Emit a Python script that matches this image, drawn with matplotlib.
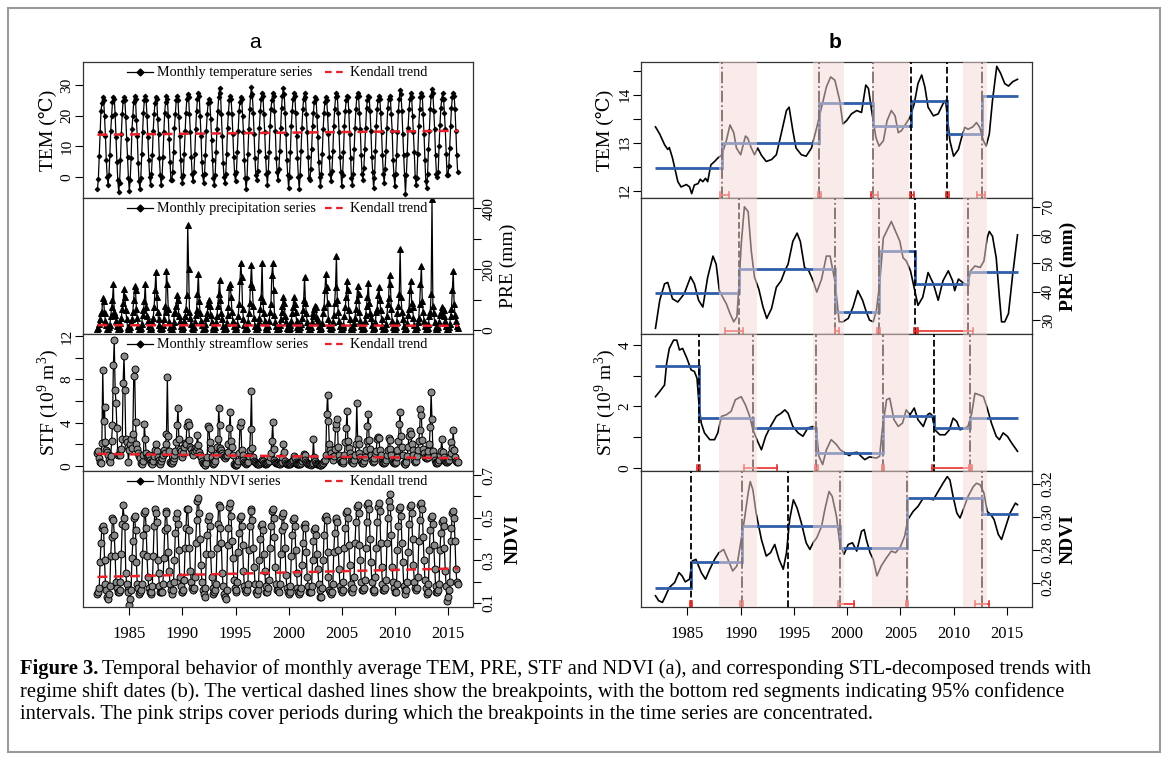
import matplotlib.pyplot as plt
import numpy as np
from matplotlib.patches import Rectangle

plt.rcParams['font.family'] = ['Liberation Serif', 'DejaVu Serif']
plt.rcParams['mathtext.fontset'] = 'custom'
plt.rcParams['mathtext.rm'] = 'Liberation Serif'

# ---------------- panel a: monthly series, 1982-2015 (one row of 12 per year) ----------------
tem_monthly = [
    [-4.0, -0.8, 6.8, 14.5, 21.5, 24.0, 26.0, 25.2, 19.8, 13.5, 5.5, 0.0],
    [-2.5, 0.5, 7.0, 15.0, 20.0, 24.5, 26.0, 25.5, 20.5, 13.0, 5.0, -1.0],
    [-5.0, -2.0, 5.5, 14.0, 20.5, 24.8, 26.0, 25.0, 19.5, 12.5, 6.5, -0.5],
    [-4.5, -1.0, 6.0, 15.5, 20.0, 24.5, 26.5, 25.5, 18.5, 13.5, 4.5, -1.5],
    [-4.0, -0.5, 7.5, 14.5, 21.0, 25.0, 26.5, 25.0, 20.0, 13.0, 5.5, 0.0],
    [-2.5, 1.0, 7.0, 15.0, 20.5, 24.0, 26.0, 25.5, 19.0, 14.0, 6.0, 0.5],
    [-2.5, 0.0, 6.5, 14.5, 21.0, 24.5, 26.3, 25.5, 20.0, 12.5, 5.0, -1.0],
    [-1.0, 1.5, 8.0, 16.0, 20.5, 25.0, 26.3, 25.0, 19.5, 13.5, 5.5, 0.0],
    [-2.0, 0.5, 7.5, 15.0, 21.0, 25.5, 27.2, 26.0, 20.5, 14.5, 6.5, 1.0],
    [-1.5, 1.5, 7.5, 15.5, 21.5, 25.5, 27.5, 26.5, 20.0, 13.5, 5.0, 0.5],
    [-2.0, 1.0, 7.0, 15.0, 20.5, 24.0, 25.3, 24.5, 19.0, 12.0, 5.5, -0.5],
    [-2.5, 0.5, 8.0, 15.5, 21.5, 26.0, 29.0, 27.5, 20.5, 13.5, 4.5, 0.0],
    [-2.0, 1.0, 7.5, 16.0, 21.0, 25.0, 26.3, 25.5, 20.5, 14.0, 6.5, 1.0],
    [-1.5, 1.5, 8.0, 15.0, 21.5, 24.5, 26.0, 25.5, 20.0, 14.5, 5.5, -0.5],
    [-4.0, -0.5, 7.5, 15.5, 22.0, 26.5, 29.3, 27.0, 21.0, 14.0, 6.0, 0.5],
    [-1.0, 2.0, 8.5, 16.0, 21.5, 25.5, 27.5, 26.5, 20.5, 14.5, 6.5, 1.0],
    [-2.5, 1.5, 8.0, 16.5, 22.0, 25.0, 27.5, 26.5, 21.5, 15.0, 6.0, 1.5],
    [-1.0, 2.5, 8.5, 16.0, 22.5, 26.5, 29.0, 27.0, 21.0, 14.0, 5.5, 0.5],
    [-3.5, 0.0, 8.0, 16.5, 21.5, 25.5, 27.5, 26.5, 21.0, 13.5, 6.0, 0.0],
    [-4.0, 0.5, 8.5, 16.0, 22.0, 25.5, 27.3, 26.0, 20.5, 14.5, 6.5, -0.5],
    [-1.0, 2.5, 9.0, 16.5, 21.0, 24.5, 26.0, 25.5, 20.0, 13.0, 5.0, 0.0],
    [-3.0, 1.0, 7.5, 15.5, 21.0, 24.5, 26.0, 25.0, 20.5, 14.0, 6.5, 1.0],
    [-1.5, 2.0, 8.5, 16.5, 22.0, 26.0, 27.5, 26.5, 21.0, 14.5, 6.5, 1.5],
    [-3.0, 0.5, 8.0, 16.5, 21.5, 25.0, 26.5, 26.0, 21.5, 14.0, 6.0, -0.5],
    [-2.5, 1.0, 9.0, 16.0, 22.0, 26.0, 27.5, 26.5, 21.0, 15.5, 7.0, 1.0],
    [-1.0, 3.0, 9.0, 16.0, 22.5, 25.0, 26.5, 26.0, 21.5, 15.0, 6.5, 1.5],
    [-3.5, -0.5, 8.5, 16.5, 22.0, 25.0, 26.5, 25.5, 21.0, 14.5, 7.0, 1.0],
    [-2.0, 2.5, 8.5, 16.0, 22.5, 25.5, 26.3, 25.5, 20.5, 15.0, 5.5, 0.5],
    [-3.0, 1.0, 7.0, 14.5, 21.5, 25.5, 28.5, 27.0, 21.5, 14.0, 7.0, 0.5],
    [-5.5, 0.5, 7.5, 16.0, 22.0, 25.5, 27.3, 26.0, 20.0, 14.5, 8.0, 0.0],
    [-2.5, -0.5, 7.5, 16.5, 22.0, 26.0, 27.3, 26.5, 20.5, 14.0, 5.5, -1.5],
    [-3.5, 1.0, 9.0, 15.0, 22.0, 26.5, 28.7, 27.5, 21.5, 15.5, 7.0, 1.0],
    [0.0, 1.5, 10.0, 17.0, 22.5, 25.5, 27.5, 25.5, 21.0, 15.5, 7.5, 0.5],
    [0.5, 3.5, 9.5, 16.5, 22.5, 26.0, 27.5, 26.5, 22.0, 15.0, 7.0, 1.5],
]

pre_monthly = [
    [4, 8, 20, 35, 55, 60, 105, 95, 55, 30, 15, 5],
    [5, 10, 18, 45, 75, 100, 150, 60, 50, 30, 12, 4],
    [3, 8, 22, 40, 70, 90, 135, 110, 65, 35, 10, 4],
    [4, 9, 25, 35, 60, 100, 145, 130, 70, 40, 14, 5],
    [5, 7, 20, 50, 65, 95, 150, 75, 45, 30, 12, 3],
    [4, 10, 28, 40, 75, 130, 190, 110, 60, 35, 15, 6],
    [3, 8, 15, 35, 80, 60, 195, 150, 70, 25, 10, 3],
    [4, 12, 25, 55, 60, 80, 115, 100, 45, 30, 12, 5],
    [6, 10, 30, 45, 70, 115, 345, 200, 60, 40, 20, 6],
    [5, 9, 25, 50, 65, 120, 185, 95, 55, 30, 15, 4],
    [3, 8, 20, 40, 55, 85, 100, 80, 50, 25, 10, 3],
    [4, 10, 25, 45, 80, 120, 165, 100, 55, 35, 14, 5],
    [5, 8, 22, 50, 75, 140, 150, 110, 60, 30, 12, 4],
    [4, 9, 20, 45, 85, 160, 220, 175, 70, 35, 15, 5],
    [3, 7, 28, 55, 90, 150, 215, 140, 80, 40, 12, 4],
    [5, 10, 25, 40, 70, 110, 220, 95, 55, 30, 10, 3],
    [4, 12, 30, 60, 85, 180, 220, 130, 50, 28, 12, 5],
    [3, 6, 18, 35, 60, 80, 110, 90, 45, 25, 8, 2],
    [4, 8, 15, 30, 55, 75, 110, 85, 60, 30, 10, 3],
    [3, 9, 20, 40, 65, 100, 175, 90, 55, 25, 12, 4],
    [5, 10, 25, 45, 55, 70, 80, 75, 40, 30, 14, 5],
    [4, 8, 22, 55, 75, 130, 185, 140, 90, 35, 15, 6],
    [5, 11, 28, 50, 90, 140, 245, 100, 60, 30, 12, 4],
    [3, 9, 18, 45, 75, 110, 160, 130, 65, 35, 10, 3],
    [4, 10, 24, 40, 70, 100, 145, 120, 60, 30, 12, 5],
    [5, 8, 30, 50, 80, 110, 155, 90, 55, 40, 15, 4],
    [6, 9, 25, 60, 70, 115, 140, 100, 65, 35, 12, 5],
    [3, 8, 20, 45, 85, 105, 180, 150, 70, 30, 10, 4],
    [4, 10, 28, 55, 80, 120, 265, 110, 60, 35, 14, 5],
    [5, 7, 22, 50, 70, 130, 160, 90, 75, 40, 15, 4],
    [4, 9, 25, 40, 85, 150, 210, 95, 60, 30, 12, 5],
    [3, 8, 20, 45, 60, 120, 430, 80, 55, 25, 10, 3],
    [4, 10, 25, 50, 60, 75, 70, 65, 45, 30, 12, 4],
    [5, 9, 20, 45, 70, 130, 195, 85, 50, 30, 14, 6],
]

stf_monthly = [
    [1.2, 1.4, 0.7, 0.4, 0.3, 2.1, 8.9, 4.2, 5.5, 2.2, 1.5, 1.3],
    [1.0, 0.6, 0.4, 0.9, 2.3, 3.8, 9.3, 11.6, 7.0, 5.8, 3.5, 1.0],
    [1.1, 1.0, 1.5, 1.6, 2.5, 7.7, 10.2, 7.0, 2.5, 2.2, 1.8, 0.4],
    [1.5, 2.0, 2.5, 1.7, 3.0, 8.3, 9.0, 4.1, 2.0, 1.6, 1.2, 0.9],
    [0.7, 0.3, 0.2, 0.5, 1.0, 3.9, 2.5, 1.2, 0.8, 0.9, 1.0, 0.6],
    [0.4, 0.3, 0.2, 0.5, 0.9, 1.5, 2.0, 1.4, 0.8, 0.6, 0.3, 0.2],
    [0.5, 0.7, 1.0, 1.5, 1.2, 2.0, 3.0, 8.2, 2.8, 1.4, 0.4, 0.3],
    [0.3, 0.5, 0.7, 1.0, 1.4, 2.2, 3.8, 5.4, 2.5, 1.6, 1.4, 0.9],
    [0.8, 1.2, 1.8, 2.1, 2.0, 3.7, 4.1, 3.8, 2.4, 1.8, 1.6, 1.2],
    [1.0, 1.4, 1.7, 1.5, 1.8, 2.9, 1.9, 1.3, 1.0, 0.8, 0.5, 0.3],
    [0.2, 0.1, 0.1, 0.3, 0.8, 3.7, 3.5, 2.2, 1.6, 0.8, 0.4, 0.2],
    [0.3, 0.5, 1.0, 1.8, 2.5, 5.4, 3.8, 1.7, 1.5, 1.2, 1.0, 0.8],
    [0.7, 0.9, 1.0, 1.3, 2.0, 3.5, 5.0, 2.3, 1.8, 1.0, 0.2, 0.1],
    [0.1, 0.1, 0.2, 0.5, 1.2, 3.7, 4.1, 1.5, 1.0, 0.6, 0.4, 0.3],
    [0.2, 0.3, 0.4, 0.9, 1.5, 3.4, 6.9, 1.7, 0.8, 0.5, 0.4, 0.3],
    [0.2, 0.2, 0.3, 0.2, 0.3, 0.4, 0.6, 0.5, 0.3, 0.2, 0.2, 0.3],
    [0.3, 0.4, 0.5, 0.8, 1.2, 2.3, 4.1, 1.6, 0.6, 0.4, 0.3, 0.3],
    [0.3, 0.2, 0.2, 0.3, 0.4, 0.8, 2.0, 1.3, 0.5, 0.3, 0.2, 0.2],
    [0.2, 0.2, 0.3, 0.4, 0.5, 0.6, 0.9, 0.7, 0.4, 0.3, 0.2, 0.2],
    [0.2, 0.2, 0.3, 0.5, 0.7, 1.1, 1.0, 0.6, 0.4, 0.3, 0.2, 0.2],
    [0.2, 0.1, 0.2, 0.3, 2.5, 0.8, 0.5, 0.3, 0.2, 0.2, 0.2, 0.1],
    [0.1, 0.1, 0.2, 0.3, 0.5, 0.6, 1.0, 4.8, 6.6, 4.2, 2.0, 1.5],
    [1.2, 0.8, 0.6, 0.9, 1.6, 3.5, 3.9, 4.3, 1.8, 1.0, 0.6, 0.4],
    [0.4, 0.3, 0.5, 1.0, 2.2, 3.5, 5.1, 2.3, 1.7, 1.2, 0.8, 0.5],
    [0.4, 0.3, 0.6, 1.0, 2.0, 5.8, 2.5, 2.0, 1.2, 0.8, 0.5, 0.3],
    [0.3, 0.5, 0.8, 1.5, 2.3, 3.7, 4.8, 2.4, 1.6, 1.0, 0.6, 0.4],
    [0.5, 0.7, 1.2, 1.4, 2.5, 2.7, 2.6, 1.5, 1.0, 0.6, 0.4, 0.3],
    [0.3, 0.4, 0.6, 1.0, 1.5, 2.6, 2.4, 1.6, 1.0, 0.6, 0.4, 0.3],
    [0.3, 0.4, 0.8, 1.5, 2.3, 3.9, 5.0, 2.8, 1.8, 1.0, 0.3, 0.2],
    [0.2, 0.4, 0.9, 1.8, 2.8, 3.2, 3.0, 2.0, 1.5, 1.0, 0.6, 0.4],
    [0.5, 0.9, 1.5, 2.3, 3.3, 5.3, 4.7, 2.4, 1.6, 1.2, 0.8, 0.7],
    [0.7, 0.8, 1.4, 2.0, 3.6, 6.8, 4.3, 1.4, 0.9, 0.6, 0.4, 0.3],
    [0.3, 0.4, 0.6, 1.0, 1.4, 2.5, 1.3, 0.8, 0.6, 0.5, 0.4, 0.4],
    [0.5, 0.6, 0.9, 1.2, 2.2, 1.7, 3.3, 1.5, 0.8, 0.5, 0.4, 0.4],
]

ndvi_monthly = [
    [0.14, 0.15, 0.17, 0.29, 0.38, 0.45, 0.46, 0.44, 0.30, 0.19, 0.16, 0.13],
    [0.12, 0.14, 0.18, 0.32, 0.41, 0.50, 0.49, 0.42, 0.32, 0.20, 0.17, 0.15],
    [0.15, 0.16, 0.20, 0.33, 0.47, 0.56, 0.50, 0.46, 0.24, 0.19, 0.16, 0.15],
    [0.09, 0.12, 0.16, 0.31, 0.39, 0.50, 0.51, 0.44, 0.29, 0.19, 0.17, 0.14],
    [0.15, 0.16, 0.19, 0.33, 0.42, 0.52, 0.53, 0.45, 0.32, 0.22, 0.17, 0.15],
    [0.14, 0.15, 0.18, 0.32, 0.46, 0.54, 0.52, 0.48, 0.30, 0.24, 0.18, 0.15],
    [0.15, 0.15, 0.19, 0.31, 0.44, 0.53, 0.52, 0.45, 0.34, 0.25, 0.19, 0.16],
    [0.14, 0.16, 0.20, 0.30, 0.43, 0.50, 0.52, 0.47, 0.35, 0.22, 0.18, 0.15],
    [0.15, 0.16, 0.21, 0.36, 0.45, 0.54, 0.54, 0.44, 0.36, 0.25, 0.20, 0.17],
    [0.16, 0.17, 0.22, 0.38, 0.49, 0.58, 0.59, 0.52, 0.40, 0.28, 0.20, 0.16],
    [0.14, 0.13, 0.17, 0.33, 0.42, 0.49, 0.51, 0.46, 0.33, 0.22, 0.17, 0.14],
    [0.15, 0.16, 0.19, 0.36, 0.47, 0.56, 0.55, 0.45, 0.38, 0.24, 0.18, 0.14],
    [0.13, 0.12, 0.16, 0.37, 0.45, 0.55, 0.57, 0.51, 0.39, 0.31, 0.21, 0.17],
    [0.15, 0.16, 0.20, 0.34, 0.43, 0.50, 0.51, 0.46, 0.37, 0.25, 0.18, 0.16],
    [0.15, 0.16, 0.19, 0.35, 0.46, 0.54, 0.53, 0.49, 0.36, 0.27, 0.19, 0.15],
    [0.14, 0.16, 0.19, 0.30, 0.40, 0.46, 0.47, 0.44, 0.33, 0.25, 0.18, 0.15],
    [0.15, 0.17, 0.21, 0.36, 0.46, 0.53, 0.54, 0.50, 0.41, 0.27, 0.19, 0.16],
    [0.16, 0.15, 0.19, 0.33, 0.44, 0.51, 0.52, 0.46, 0.36, 0.23, 0.17, 0.15],
    [0.14, 0.15, 0.18, 0.32, 0.42, 0.49, 0.50, 0.46, 0.35, 0.24, 0.17, 0.15],
    [0.14, 0.15, 0.17, 0.28, 0.38, 0.46, 0.47, 0.45, 0.34, 0.22, 0.18, 0.15],
    [0.15, 0.15, 0.18, 0.30, 0.39, 0.44, 0.45, 0.42, 0.33, 0.26, 0.19, 0.16],
    [0.13, 0.13, 0.17, 0.30, 0.42, 0.50, 0.51, 0.49, 0.34, 0.22, 0.16, 0.15],
    [0.14, 0.15, 0.19, 0.34, 0.43, 0.49, 0.50, 0.48, 0.35, 0.26, 0.18, 0.16],
    [0.15, 0.16, 0.20, 0.36, 0.45, 0.52, 0.53, 0.50, 0.37, 0.28, 0.19, 0.16],
    [0.15, 0.17, 0.22, 0.38, 0.48, 0.55, 0.56, 0.52, 0.37, 0.30, 0.20, 0.16],
    [0.16, 0.17, 0.21, 0.36, 0.48, 0.56, 0.57, 0.54, 0.40, 0.29, 0.20, 0.16],
    [0.15, 0.16, 0.22, 0.36, 0.48, 0.55, 0.57, 0.53, 0.38, 0.27, 0.19, 0.16],
    [0.16, 0.17, 0.21, 0.38, 0.50, 0.58, 0.61, 0.55, 0.42, 0.27, 0.20, 0.17],
    [0.15, 0.15, 0.19, 0.35, 0.46, 0.54, 0.55, 0.51, 0.38, 0.29, 0.18, 0.16],
    [0.14, 0.16, 0.20, 0.34, 0.47, 0.55, 0.56, 0.52, 0.40, 0.28, 0.20, 0.17],
    [0.16, 0.17, 0.22, 0.39, 0.49, 0.56, 0.57, 0.54, 0.41, 0.30, 0.21, 0.17],
    [0.14, 0.15, 0.19, 0.35, 0.44, 0.50, 0.51, 0.47, 0.37, 0.26, 0.18, 0.15],
    [0.15, 0.16, 0.19, 0.35, 0.43, 0.48, 0.49, 0.46, 0.36, 0.25, 0.18, 0.11],
    [0.13, 0.16, 0.20, 0.39, 0.45, 0.52, 0.53, 0.50, 0.39, 0.26, 0.20, 0.19],
]

# Kendall trend lines: value at start (1982) and end (2016)
kendall_years = [1982.0, 2016.0]
tem_kendall = [13.75, 15.05]
pre_kendall = [16.0, 14.0]
stf_kendall = [1.12, 0.72]
ndvi_kendall = [0.222, 0.262]

# ---------------- panel b: STL trends, breakpoints, levels, CIs ----------------
tem_trend_yr = [1982.0, 1982.4, 1982.85, 1983.15, 1983.3, 1983.6, 1984.1, 1984.4, 1984.9, 1985.2,
                1985.4, 1985.65, 1986.0, 1986.2, 1986.45, 1986.7, 1986.9, 1987.2, 1987.55, 1987.85,
                1988.25, 1988.65, 1989.0, 1989.35, 1989.6, 1990.0, 1990.45, 1990.65, 1991.0, 1991.3,
                1991.6, 1991.95, 1992.4, 1992.9, 1993.35, 1993.8, 1994.3, 1994.55, 1994.9, 1995.2,
                1995.7, 1996.15, 1996.65, 1997.15, 1997.6, 1998.05, 1998.45, 1998.85, 1999.3, 1999.6,
                1999.95, 2000.4, 2000.9, 2001.35, 2001.75, 2002.0, 2002.3, 2002.7, 2003.0, 2003.4,
                2003.75, 2004.15, 2004.5, 2004.8, 2005.1, 2005.5, 2005.9, 2006.3, 2006.65, 2007.0,
                2007.3, 2007.6, 2008.1, 2008.55, 2009.0, 2009.25, 2009.65, 2010.0, 2010.45, 2010.75,
                2011.05, 2011.35, 2011.8, 2012.15, 2012.45, 2012.8, 2013.05, 2013.35, 2013.65, 2014.05,
                2014.4, 2014.8, 2015.15, 2015.55, 2016.0]
tem_trend = [13.33, 13.18, 12.96, 12.86, 12.90, 12.68, 12.19, 12.08, 12.13, 12.08,
             11.94, 12.12, 12.15, 12.24, 12.19, 12.26, 12.19, 12.54, 12.61, 12.68,
             12.75, 13.04, 13.37, 13.21, 12.89, 12.75, 13.14, 13.10, 12.89, 12.75,
             12.89, 12.74, 12.61, 12.65, 12.75, 13.18, 13.67, 13.74, 13.25, 12.89,
             12.75, 12.72, 12.89, 13.32, 13.74, 14.16, 14.37, 14.30, 13.88, 13.39,
             13.46, 13.60, 13.67, 13.63, 14.20, 14.13, 13.67, 13.11, 12.93, 13.04,
             13.46, 13.67, 13.56, 13.21, 13.25, 13.39, 13.53, 13.81, 14.23, 14.41,
             14.16, 13.74, 13.56, 13.60, 13.81, 13.88, 13.04, 12.72, 12.86, 13.11,
             13.32, 13.28, 13.33, 13.42, 13.32, 13.04, 12.93, 13.18, 13.88, 14.59,
             14.45, 14.23, 14.18, 14.27, 14.32]
tem_breaks = [1988.24, 1997.33, 2002.44, 2005.98, 2009.34, 2012.69]
tem_break_styles = ['-.', '-.', '-.', '--', '--', '-.']
tem_levels = [12.47, 13.0, 13.82, 13.35, 13.87, 13.18, 13.97]
tem_ci_lo = [1988.05, 1997.27, 2002.2, 2005.9, 2009.27, 2012.2]
tem_ci_hi = [1988.9, 1997.5, 2002.9, 2006.3, 2009.6, 2012.9]

pre_trend_yr = [1982.0, 1982.4, 1982.85, 1983.15, 1983.6, 1984.1, 1984.7, 1985.3, 1985.65, 1986.05,
                1986.45, 1986.9, 1987.4, 1987.7, 1988.0, 1988.4, 1988.65, 1989.0, 1989.35, 1989.65,
                1989.85, 1990.05, 1990.35, 1990.7, 1991.0, 1991.3, 1991.7, 1992.1, 1992.45, 1992.9,
                1993.35, 1993.8, 1994.15, 1994.45, 1994.9, 1995.3, 1995.6, 1996.0, 1996.4, 1996.8,
                1997.15, 1997.6, 1998.05, 1998.4, 1998.6, 1998.85, 1999.25, 1999.6, 2000.1, 2000.55,
                2001.0, 2001.45, 2001.8, 2002.1, 2002.45, 2002.75, 2003.05, 2003.4, 2003.85, 2004.15,
                2004.55, 2004.95, 2005.25, 2005.55, 2005.95, 2006.35, 2006.65, 2007.1, 2007.6, 2008.1,
                2008.55, 2009.0, 2009.5, 2009.9, 2010.1, 2010.45, 2010.85, 2011.3, 2011.6, 2012.0,
                2012.5, 2012.85, 2013.15, 2013.35, 2013.65, 2014.0, 2014.3, 2014.5, 2014.8, 2015.15,
                2015.55, 2016.0]
pre_trend = [27.1, 37.0, 42.8, 43.3, 37.5, 36.4, 39.3, 45.3, 42.8, 37.0,
             34.6, 45.1, 52.6, 49.7, 40.4, 37.5, 35.8, 32.3, 29.4, 31.2,
             42.8, 56.7, 70.0, 68.3, 54.3, 45.1, 41.0, 34.6, 30.6, 34.1,
             41.6, 43.9, 47.4, 49.7, 57.8, 60.7, 57.8, 48.6, 47.4, 43.9,
             39.9, 44.5, 52.6, 52.6, 48.6, 43.9, 29.4, 29.4, 30.6, 34.6,
             40.4, 37.0, 32.9, 30.0, 29.4, 33.5, 42.8, 59.0, 62.5, 64.8,
             61.3, 57.8, 52.0, 50.9, 47.4, 40.4, 35.2, 38.1, 46.8, 42.8,
             37.0, 43.9, 47.4, 43.9, 40.4, 44.5, 43.3, 42.2, 47.4, 49.1,
             48.6, 50.9, 59.0, 61.3, 59.6, 52.0, 38.1, 29.4, 29.4, 32.3,
             46.2, 60.1]
pre_breaks = [1989.8, 1998.9, 2002.97, 2006.36, 2011.37]
pre_break_styles = ['--', '-.', '-.', '--', '-.']
pre_levels = [39.6, 47.9, 33.0, 54.4, 42.6, 47.0]
pre_ci_lo = [1988.5, 1998.85, 2002.85, 2006.3, 2006.65]
pre_ci_hi = [1990.2, 1999.25, 2003.1, 2006.6, 2011.85]

stf_trend_yr = [1982.0, 1982.4, 1982.85, 1983.05, 1983.3, 1983.7, 1984.0, 1984.25, 1984.55, 1984.95,
                1985.35, 1985.65, 1985.9, 1986.1, 1986.3, 1986.6, 1987.1, 1987.55, 1987.85, 1988.2,
                1988.65, 1989.1, 1989.5, 1990.05, 1990.45, 1990.85, 1991.15, 1991.6, 1991.95, 1992.35,
                1992.8, 1993.35, 1993.8, 1994.15, 1994.45, 1994.9, 1995.4, 1995.85, 1996.3, 1996.8,
                1997.1, 1997.35, 1997.7, 1998.05, 1998.5, 1999.0, 1999.35, 1999.8, 2000.2, 2000.55,
                2000.95, 2001.25, 2001.65, 2002.1, 2002.75, 2003.05, 2003.3, 2003.7, 2004.0, 2004.4,
                2004.8, 2005.2, 2005.55, 2005.9, 2006.3, 2006.65, 2007.15, 2007.55, 2007.75, 2007.95,
                2008.25, 2008.7, 2009.2, 2009.6, 2009.95, 2010.3, 2010.6, 2011.05, 2011.35, 2011.7,
                2012.0, 2012.4, 2012.8, 2013.15, 2013.55, 2014.0, 2014.3, 2014.65, 2015.05, 2015.45,
                2016.0]
stf_trend = [2.32, 2.49, 2.70, 3.41, 3.89, 4.16, 4.16, 3.84, 3.89, 3.57,
             3.19, 3.14, 2.92, 2.00, 1.46, 1.14, 0.92, 0.92, 1.14, 1.68,
             1.73, 1.84, 2.22, 2.32, 2.05, 1.68, 1.24, 0.86, 0.59, 1.03,
             1.35, 1.68, 1.78, 1.89, 1.78, 1.35, 1.14, 1.03, 1.30, 1.35,
             1.24, 0.38, 0.11, 0.59, 0.92, 0.76, 0.59, 0.49, 0.40, 0.49,
             0.51, 0.40, 0.27, 0.36, 0.32, 0.38, 1.24, 2.22, 2.27, 1.57,
             1.35, 1.46, 1.89, 1.73, 1.95, 1.57, 1.35, 1.73, 1.78, 1.73,
             1.24, 1.08, 1.08, 1.24, 1.62, 1.51, 1.24, 1.30, 1.35, 1.78,
             2.43, 2.38, 2.32, 1.95, 1.46, 1.03, 0.92, 1.14, 1.03, 0.81,
             0.54]
stf_breaks = [1986.08, 1991.15, 1997.1, 2003.38, 2008.14, 2011.53]
stf_break_styles = ['--', '-.', '-.', '-.', '--', '-.']
stf_levels = [3.31, 1.62, 1.29, 0.49, 1.69, 1.29, 1.62]
stf_ci_lo = [1985.9, 1990.3, 1997.0, 2003.3, 2007.95, 2011.4]
stf_ci_hi = [1986.2, 1993.4, 1997.3, 2003.5, 2011.5, 2011.7]

ndvi_trend_yr = [1982.0, 1982.3, 1982.65, 1982.95, 1983.3, 1983.8, 1984.2, 1984.5, 1984.8, 1985.2,
                 1985.45, 1985.8, 1986.3, 1986.7, 1987.1, 1987.55, 1987.95, 1988.4, 1988.8, 1989.25,
                 1989.65, 1990.05, 1990.35, 1990.7, 1990.9, 1991.15, 1991.45, 1991.95, 1992.4, 1992.8,
                 1993.2, 1993.6, 1994.0, 1994.3, 1994.6, 1994.95, 1995.3, 1995.7, 1996.15, 1996.5,
                 1996.8, 1997.15, 1997.6, 1997.9, 1998.3, 1998.6, 1999.0, 1999.3, 1999.7, 2000.1,
                 2000.5, 2000.9, 2001.35, 2001.6, 2001.8, 2002.15, 2002.45, 2002.8, 2003.2, 2003.7,
                 2004.15, 2004.55, 2005.0, 2005.4, 2005.7, 2006.2, 2006.65, 2007.15, 2007.6, 2008.1,
                 2008.45, 2009.0, 2009.4, 2009.65, 2009.95, 2010.3, 2010.6, 2010.9, 2011.35, 2011.85,
                 2012.15, 2012.5, 2012.85, 2013.15, 2013.5, 2013.8, 2014.2, 2014.5, 2014.8, 2015.3,
                 2015.8, 2016.0]
ndvi_trend = [0.2524, 0.2494, 0.2484, 0.2524, 0.2574, 0.2604, 0.2664, 0.2644, 0.2608, 0.2624,
              0.2734, 0.2744, 0.2664, 0.2624, 0.2684, 0.2744, 0.2784, 0.2804, 0.2744, 0.2674,
              0.2704, 0.2864, 0.2984, 0.3144, 0.3214, 0.3164, 0.3024, 0.2864, 0.2764, 0.2784,
              0.2834, 0.2744, 0.2684, 0.2784, 0.2984, 0.3104, 0.3054, 0.2964, 0.2844, 0.2804,
              0.2844, 0.2874, 0.2944, 0.3044, 0.3154, 0.3124, 0.3004, 0.2844, 0.2774, 0.2834,
              0.2844, 0.2794, 0.2914, 0.2924, 0.2864, 0.2784, 0.2744, 0.2644, 0.2704, 0.2754,
              0.2794, 0.2784, 0.2820, 0.2884, 0.2984, 0.3034, 0.3064, 0.3114, 0.3114, 0.3104,
              0.3144, 0.3204, 0.3244, 0.3224, 0.3124, 0.3024, 0.2994, 0.3044, 0.3124, 0.3184,
              0.3204, 0.3194, 0.3144, 0.3034, 0.3014, 0.2984, 0.2894, 0.2864, 0.2924, 0.3024,
              0.3084, 0.3074]
ndvi_breaks = [1985.3, 1990.1, 1994.45, 1999.3, 2005.6, 2012.7]
ndvi_break_styles = ['--', '-.', '--', '-.', '-.', '-.']
ndvi_levels = [0.2572, 0.2728, 0.2944, 0.2944, 0.2812, 0.3112, 0.3018]
ndvi_ci_lo = [1985.2, 1989.9, 1999.15, 2005.55, 2011.97]
ndvi_ci_hi = [1985.4, 1990.2, 2000.6, 2005.7, 2013.3]

# periods where breakpoints concentrate (pink strips)
strip_lo = [1988.0, 1996.8, 2002.35, 2010.85]
strip_hi = [1991.55, 1999.7, 2005.83, 2013.1]

# ---------------- figure ----------------
fig = plt.figure(figsize=(11.68, 7.6), dpi=100)
W, H = 1168, 760


def box(l, t, r, b):
    return [l / W, 1 - b / H, (r - l) / W, (b - t) / H]


rows = [(62, 198), (198, 334), (334, 471), (471, 607)]
axa = [fig.add_axes(box(83, t, 473, b)) for t, b in rows]
axb = [fig.add_axes(box(641, t, 1032, b)) for t, b in rows]

TICK_FS = 11


def setup(ax, side, ylim, ticks, labels, bottom):
    ax.set_xlim(1980.64, 2017.36)
    ax.set_ylim(*ylim)
    for s in ax.spines.values():
        s.set_linewidth(0.9)
        s.set_color('#333333')
    if side == 'right':
        ax.yaxis.tick_right()
    ax.set_yticks(ticks)
    ax.set_yticklabels(labels, rotation=90, va='center',
                       ha='right' if side == 'left' else 'left', fontsize=TICK_FS)
    ax.tick_params(axis='y', direction='out', length=6, width=0.8, pad=1)
    if bottom:
        ax.set_xticks(range(1985, 2016, 5))
        ax.set_xticklabels([str(y) for y in range(1985, 2016, 5)], fontsize=12)
        ax.tick_params(axis='x', direction='out', length=6, width=0.8, pad=8)
    else:
        ax.set_xticks([])


t_month = 1982 + np.arange(34 * 12) / 12.0

series_a = [
    (np.ravel(tem_monthly), tem_kendall, 'D', 2.4, 'k', 'Monthly temperature series'),
    (np.ravel(pre_monthly), pre_kendall, '^', 3.8, 'k', 'Monthly precipitation series'),
    (np.ravel(stf_monthly), stf_kendall, 'o', 5.0, '#8a8a8a', 'Monthly streamflow series'),
    (np.ravel(ndvi_monthly), ndvi_kendall, 'o', 5.0, '#8a8a8a', 'Monthly NDVI series'),
]

LEG_FS = 10.2
for ax, (vals, kend, mk, ms, mfc, lab) in zip(axa, series_a):
    ax.plot(t_month, vals, color='k', lw=0.9, marker=mk, ms=ms, mfc=mfc, mec='k', mew=0.7, zorder=2)
    ax.plot(kendall_years, kend, color='#e8212b', lw=1.8, ls=(0, (4, 2.5)), zorder=4)
    # legend drawn by hand so the columns line up across panels
    ly = 0.926
    ax.plot([0.113, 0.179], [ly, ly], transform=ax.transAxes, color='k', lw=0.9, clip_on=False)
    ax.plot([0.146], [ly], transform=ax.transAxes, color='k', marker='D', ms=3.5, clip_on=False)
    ax.text(0.19, ly, lab, transform=ax.transAxes, va='center', ha='left', fontsize=LEG_FS)
    ax.plot([0.62, 0.677], [ly, ly], transform=ax.transAxes, color='#e8212b', lw=1.6,
            ls=(0, (3, 2)), clip_on=False)
    ax.text(0.685, ly, 'Kendall trend', transform=ax.transAxes, va='center', ha='left', fontsize=LEG_FS)

setup(axa[0], 'left', (-6.9, 37.5), [0, 10, 20, 30], ['0', '10', '20', '30'], False)
setup(axa[1], 'right', (-13, 434), [0, 100, 200, 300, 400], ['0', '', '200', '', '400'], False)
setup(axa[2], 'left', (-0.46, 12.2), [0, 2, 4, 6, 8, 10, 12], ['0', '', '4', '', '8', '', '12'], False)
setup(axa[3], 'right', (0.081, 0.719), [0.1, 0.2, 0.3, 0.4, 0.5, 0.6, 0.7],
      ['0.1', '', '0.3', '', '0.5', '', '0.7'], True)

series_b = [
    (tem_trend_yr, tem_trend, tem_breaks, tem_break_styles, tem_levels, tem_ci_lo, tem_ci_hi),
    (pre_trend_yr, pre_trend, pre_breaks, pre_break_styles, pre_levels, pre_ci_lo, pre_ci_hi),
    (stf_trend_yr, stf_trend, stf_breaks, stf_break_styles, stf_levels, stf_ci_lo, stf_ci_hi),
    (ndvi_trend_yr, ndvi_trend, ndvi_breaks, ndvi_break_styles, ndvi_levels, ndvi_ci_lo, ndvi_ci_hi),
]

for ax, (ty, tv, brk, bst, lev, clo, chi) in zip(axb, series_b):
    ax.plot(ty, tv, color='k', lw=1.2, zorder=2)
    edges = [1982.0] + brk + [2016.0]
    ax.stairs(lev, edges, baseline=None, color='#2f5ea8', lw=2.0, zorder=3)
    for x, ls in zip(brk, bst):
        ax.axvline(x, color='k', ls=ls, lw=1.3, zorder=3)
    xt = ax.get_xaxis_transform()
    for lo, hi in zip(clo, chi):
        ax.plot([lo, hi], [0.02, 0.02], transform=xt, color='#e8302a', lw=1.2, zorder=4)
        ax.plot([lo, lo], [0.0, 0.045], transform=xt, color='#e8302a', lw=1.2, zorder=4)
        ax.plot([hi, hi], [0.0, 0.045], transform=xt, color='#e8302a', lw=1.2, zorder=4)
    for lo, hi in zip(strip_lo, strip_hi):
        ax.axvspan(lo, hi, color=(0.96, 0.85, 0.84), alpha=0.52, lw=0, zorder=5)

setup(axb[0], 'left', (11.85, 14.68), [12, 12.5, 13, 13.5, 14, 14.5], ['12', '', '13', '', '14', ''], False)
setup(axb[1], 'right', (25.1, 73.1), [30, 40, 50, 60, 70], ['30', '40', '50', '60', '70'], False)
setup(axb[2], 'left', (-0.1, 4.36), [0, 1, 2, 3, 4], ['0', '', '2', '', '4'], False)
setup(axb[3], 'right', (0.2456, 0.3278), [0.26, 0.28, 0.30, 0.32], ['0.26', '0.28', '0.30', '0.32'], True)

# axis titles
lab_fs = 14
fig.text(48 / W, 1 - 130 / H, 'TEM (℃)', rotation=90, ha='center', va='center', fontsize=lab_fs)
fig.text(508 / W, 1 - 266 / H, 'PRE (mm)', rotation=90, ha='center', va='center', fontsize=lab_fs)
fig.text(48 / W, 1 - 402 / H, 'STF (10$^\\mathregular{9}$ m$^\\mathregular{3}$)', rotation=90,
         ha='center', va='center', fontsize=lab_fs)
fig.text(513 / W, 1 - 539 / H, 'NDVI', rotation=90, ha='center', va='center', fontsize=lab_fs,
         fontweight='bold')
fig.text(605 / W, 1 - 130 / H, 'TEM (℃)', rotation=90, ha='center', va='center', fontsize=lab_fs)
fig.text(1068 / W, 1 - 266 / H, 'PRE (mm)', rotation=90, ha='center', va='center', fontsize=lab_fs,
         fontweight='bold')
fig.text(605 / W, 1 - 402 / H, 'STF (10$^\\mathregular{9}$ m$^\\mathregular{3}$)', rotation=90,
         ha='center', va='center', fontsize=lab_fs)
fig.text(1068 / W, 1 - 539 / H, 'NDVI', rotation=90, ha='center', va='center', fontsize=lab_fs,
         fontweight='bold')

fig.text(255 / W, 1 - 42 / H, 'a', ha='center', va='center', fontsize=15, family='Liberation Sans')
fig.text(835 / W, 1 - 42 / H, 'b', ha='center', va='center', fontsize=15, family='Liberation Sans',
         fontweight='bold')

# caption
cap_fs = 14.75
cap_lines = [
    'Temporal behavior of monthly average TEM, PRE, STF and NDVI (a), and corresponding STL-decomposed trends with',
    'regime shift dates (b). The vertical dashed lines show the breakpoints, with the bottom red segments indicating 95% confidence',
    'intervals. The pink strips cover periods during which the breakpoints in the time series are concentrated.',
]
r = fig.canvas.get_renderer()
t1 = fig.text(20 / W, 1 - 669 / H, 'Figure 3.', fontsize=cap_fs, fontweight='bold', va='center')
bb = t1.get_window_extent(r)
fig.text((bb.x1 + 4) / W, 1 - 669 / H, cap_lines[0], fontsize=cap_fs, va='center')
fig.text(20 / W, 1 - 692 / H, cap_lines[1], fontsize=cap_fs, va='center')
fig.text(20 / W, 1 - 715 / H, cap_lines[2], fontsize=cap_fs, va='center')

# outer frame
fig.patches.append(Rectangle((8 / W, 8 / H), 1152 / W, 744 / H, transform=fig.transFigure,
                             fill=False, ec='#9a9a9a', lw=1.5))

fig.savefig('out.png', dpi=100)
